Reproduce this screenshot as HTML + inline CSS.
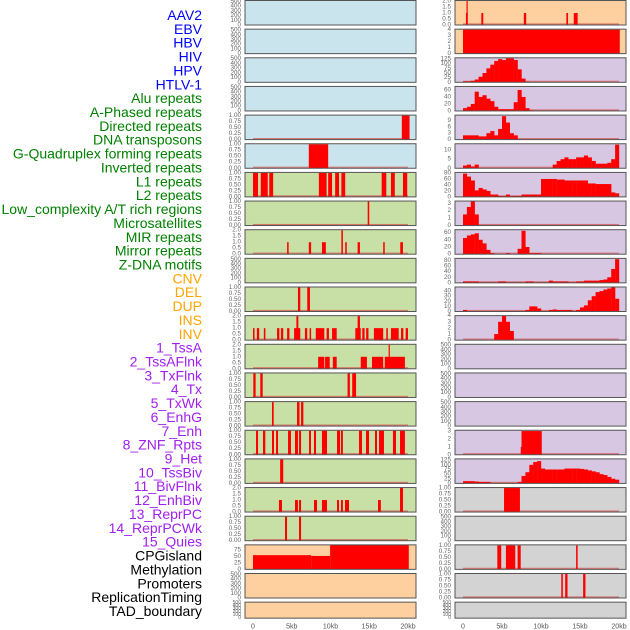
<!DOCTYPE html>
<html><head><meta charset="utf-8">
<style>
html,body{margin:0;padding:0;background:#fff;}
svg{display:block;}
text{font-family:"Liberation Sans",sans-serif;}
</style></head>
<body>
<svg id="chart" width="630" height="630" viewBox="0 0 630 630"></svg>
<script>
// ===== Data =====
const trackLabels = ["AAV2","EBV","HBV","HIV","HPV","HTLV-1","Alu repeats","A-Phased repeats","Directed repeats","DNA transposons","G-Quadruplex forming repeats","Inverted repeats","L1 repeats","L2 repeats","Low_complexity A/T rich regions","Microsatellites","MIR repeats","Mirror repeats","Z-DNA motifs","CNV","DEL","DUP","INS","INV","1_TssA","2_TssAFlnk","3_TxFlnk","4_Tx","5_TxWk","6_EnhG","7_Enh","8_ZNF_Rpts","9_Het","10_TssBiv","11_BivFlnk","12_EnhBiv","13_ReprPC","14_ReprPCWk","15_Quies","CPGisland","Methylation","Promoters","ReplicationTiming","TAD_boundary"];
const labelGroups = [6,13,5,15,5];
const xTickValues = [0,5,10,15,20];
const xTickLabels = ["0","5kb","10kb","15kb","20kb"];

// bar tracks: [startKb, endKb, value]
const L4_bars = [[19.2,20.2,1]];
const L5_bars = [[7.2,9.7,1]];
const L6_bars = [[0,0.65,1],[1.0,1.9,1],[2.1,2.6,1],[8.5,9.5,1],[9.7,10.2,1],[10.6,11.1,1],[11.4,11.9,1],[16.6,17.2,1],[17.8,18.3,1],[19.35,19.9,1]];
const L7_bars = [[14.8,15.0,1]];
const L8_bars = [[4.4,4.6,1],[7.2,7.5,1],[8.9,9.4,1],[11.4,11.6,2],[11.9,12.1,1],[13.5,13.8,1],[16.8,17.0,1],[19.0,19.35,1]];
const L10_bars = [[5.8,6.1,1],[7.0,7.35,1]];
const L11_bars = [[0,0.2,1],[0.5,0.8,1],[1.4,1.6,1],[3.1,3.4,1],[3.6,3.9,1],[4.4,4.7,1],[5.3,6.1,1],[5.6,5.85,2],[6.7,7.0,1],[7.3,7.5,1],[8.1,9.2,1],[9.5,9.8,1],[10.2,10.8,1],[13.2,13.9,1],[13.5,13.8,2],[14.1,14.4,1],[14.6,14.9,1],[15.6,16.8,1],[17.2,17.4,1],[17.8,18.8,1],[19.1,19.4,1],[19.7,20.0,1]];
const L12_bars = [[8.4,9.2,1],[9.3,9.9,1],[10.3,10.8,1],[13.9,14.7,1],[15.35,16.8,1],[17.0,19.6,1],[17.5,17.6,2]];
const L13_bars = [[0.04,0.34,1],[0.94,1.25,1],[12.2,12.5,1],[12.8,13.3,1]];
const L14_bars = [[2.45,2.67,1],[5.68,6.0,1],[6.2,6.5,1]];
const L15_bars = [[0.39,0.65,1],[1.29,1.59,1],[2.45,2.71,1],[2.97,3.23,1],[4.52,4.9,1],[5.42,5.8,1],[5.94,6.2,1],[7.23,7.48,1],[7.87,8.13,1],[8.9,9.55,1],[10.84,11.23,1],[11.35,11.6,1],[13.68,14.06,1],[14.58,14.97,1],[15.74,16.0,1],[16.26,16.9,1],[18.06,18.45,1],[18.97,19.6,1]];
const L16_bars = [[3.5,3.9,1]];
const L17_bars = [[3.35,3.74,1],[5.42,5.8,1],[5.94,6.2,1],[7.87,8.26,1],[8.9,9.55,1],[10.84,11.1,1],[11.35,11.6,1],[11.87,12.39,1],[16.13,16.5,1],[18.97,19.35,2]];
const L18_bars = [[4.13,4.39,1],[5.94,6.2,1]];
const L19_bars = [[0,7.5,55],[7.5,9.95,52],[9.95,20.1,95]];
const R0_bars = [[0.38,0.6,1],[0.45,0.55,2],[2.35,2.6,1],[7.8,8.1,1],[13.25,13.46,1],[14.2,14.7,1]];
const R1_bars = [[0,20.1,4]];
const R15_bars = [[7.4,7.5,1],[7.5,10.1,3]];
const R17_bars = [[5.26,7.3,1]];
const R19_bars = [[4.4,4.9,1],[5.5,6.7,1],[7.0,7.4,1],[14.5,14.7,1]];
const R20_bars = [[12.6,12.8,1],[13.1,13.4,1],[15.4,15.7,1]];

// histogram tracks: values in 0.5kb bins starting at 0kb
const R2_bins = [5,5,8,15,30,50,75,95,115,125,120,130,130,120,70,20,3];
const R3_bins = [8,12,20,55,40,45,35,28,12,5,5,5,5,25,60,40,8,2];
const R4_bins = [2,2,2,2,1.5,1.5,3,4,2,5,11,8,3,2];
const R5_bins = [1.5,2,1,2,0,0,0,0,0,0,0,0,0,0,0,0,0,0,0,0,0,0,0,2,4,5,6,5,5,6,6,7,6,4,2.5,2.5,2.5,3,5,13];
const R6_bins = [78,68,55,22,30,25,20,8,8,3,3,8,3,3,3,8,8,8,8,8,60,60,60,60,58,58,55,55,55,55,55,55,45,45,43,43,43,43,15,12];
const R7_bins = [1.5,2.5,3.3,1.5];
const R8_bins = [45,52,55,58,40,30,12,3,0,0,0,3,0,0,15,65,20,3,3,3];
const R9_bins = [5,5,5,5,2,2,2,2,2,5,5,2,2,2,2,2,5,5,2,2,2,2,8,5,5,5,5,2,2,5,5,8,8,8,8,10,12,20,50,85];
const R10_bins = [3,0,0,0,0,0,0,0,0,0,0,0,0,0,0,0,3,10,10,6,0,0,3,4,3,3,3,3,0,3,8,12,22,30,38,40,43,45,47,25];
const R11_bins = [0,0,0,0,0,0,0,0,1,3,4,3,1.5];
const R16_bins = [12,12,12,10,8,8,8,2,0,0,0,0,0,0,8,40,60,100,115,120,80,75,75,75,75,75,80,80,80,80,78,75,70,65,60,50,45,35,25,20];

// y-axis settings: [ymax, tick values]
const ticksEmpty = [0,100,200,300,400,500];
const ticksUnit = [0,0.25,0.5,0.75,1.0];
const ticksTwo = [0,0.5,1.0,1.5,2.0];

// ===== Panels =====
const BG = {blue:"#c9e4ec",green:"#c8e0a5",orange:"#fed09f",purple:"#d7c7e3",gray:"#d3d3d3"};
const leftPanels = [
 {bg:"blue",ymax:520,ticks:ticksEmpty},
 {bg:"blue",ymax:520,ticks:ticksEmpty},
 {bg:"blue",ymax:520,ticks:ticksEmpty},
 {bg:"blue",ymax:520,ticks:ticksEmpty},
 {bg:"blue",ymax:1.02,ticks:ticksUnit,bars:L4_bars,fmt:2},
 {bg:"blue",ymax:1.02,ticks:ticksUnit,bars:L5_bars,fmt:2},
 {bg:"green",ymax:1.02,ticks:ticksUnit,bars:L6_bars,fmt:2},
 {bg:"green",ymax:1.02,ticks:ticksUnit,bars:L7_bars,fmt:2},
 {bg:"green",ymax:2.04,ticks:ticksTwo,bars:L8_bars,fmt:1},
 {bg:"green",ymax:520,ticks:ticksEmpty},
 {bg:"green",ymax:1.02,ticks:ticksUnit,bars:L10_bars,fmt:2},
 {bg:"green",ymax:2.04,ticks:ticksTwo,bars:L11_bars,fmt:1},
 {bg:"green",ymax:2.04,ticks:ticksTwo,bars:L12_bars,fmt:1},
 {bg:"green",ymax:1.02,ticks:ticksUnit,bars:L13_bars,fmt:2},
 {bg:"green",ymax:1.02,ticks:ticksUnit,bars:L14_bars,fmt:2},
 {bg:"green",ymax:1.02,ticks:ticksUnit,bars:L15_bars,fmt:2},
 {bg:"green",ymax:1.02,ticks:ticksUnit,bars:L16_bars,fmt:2},
 {bg:"green",ymax:2.04,ticks:ticksTwo,bars:L17_bars,fmt:1},
 {bg:"green",ymax:1.02,ticks:ticksUnit,bars:L18_bars,fmt:2},
 {bg:"orange",ymax:95,ticks:[0,25,50,75],bars:L19_bars,fmt:0},
 {bg:"orange",ymax:520,ticks:ticksEmpty},
 {bg:"orange",ymax:520,ticks:ticksEmpty}
];
const rightPanels = [
 {bg:"orange",ymax:2.04,ticks:ticksTwo,bars:R0_bars,fmt:1},
 {bg:"orange",ymax:4.08,ticks:[0,1,2,3,4],bars:R1_bars,fmt:0,noBase:true},
 {bg:"purple",ymax:132,ticks:[0,25,50,75,100,125],bins:R2_bins,fmt:0},
 {bg:"purple",ymax:70,ticks:[0,20,40,60],bins:R3_bins,fmt:0},
 {bg:"purple",ymax:11.5,ticks:[0,3,6,9],bins:R4_bins,fmt:0},
 {bg:"purple",ymax:13.5,ticks:[0,5,10],bins:R5_bins,fmt:0},
 {bg:"purple",ymax:82,ticks:[0,20,40,60,80],bins:R6_bins,fmt:0},
 {bg:"purple",ymax:3.3,ticks:[0,1,2,3],bins:R7_bins,fmt:0},
 {bg:"purple",ymax:68,ticks:[0,20,40,60],bins:R8_bins,fmt:0},
 {bg:"purple",ymax:88,ticks:[0,20,40,60,80],bins:R9_bins,fmt:0},
 {bg:"purple",ymax:48,ticks:[0,10,20,30,40],bins:R10_bins,fmt:0},
 {bg:"purple",ymax:4,ticks:[0,1,2,3,4],bins:R11_bins,fmt:0},
 {bg:"purple",ymax:520,ticks:ticksEmpty},
 {bg:"purple",ymax:520,ticks:ticksEmpty},
 {bg:"purple",ymax:520,ticks:ticksEmpty},
 {bg:"purple",ymax:3.1,ticks:[0,1,2,3],bars:R15_bars,fmt:0},
 {bg:"purple",ymax:132,ticks:[0,25,50,75,100,125],bins:R16_bins,fmt:0},
 {bg:"gray",ymax:1.02,ticks:ticksUnit,bars:R17_bars,fmt:2},
 {bg:"gray",ymax:520,ticks:ticksEmpty},
 {bg:"gray",ymax:1.02,ticks:ticksUnit,bars:R19_bars,fmt:2},
 {bg:"gray",ymax:1.02,ticks:ticksUnit,bars:R20_bars,fmt:2},
 {bg:"gray",ymax:520,ticks:ticksEmpty}
];

// ===== Drawing =====
const NS = "http://www.w3.org/2000/svg";
const svg = document.getElementById("chart");
function mk(tag, attrs, parent){
  const e = document.createElementNS(NS, tag);
  for (const k in attrs) e.setAttribute(k, attrs[k]);
  (parent||svg).appendChild(e);
  return e;
}
const ROW_STEP = 28.65, ROW_H = 24.5, LAST_H = 16;
const COLS = [
  {x0:245, x1:416, dataX0:253, pxPerKb:7.75, tickRight:241, panels:leftPanels, name:"left"},
  {x0:455, x1:626, dataX0:463, pxPerKb:7.8, tickRight:451, panels:rightPanels, name:"right"}
];
const groupColors = ["#0000ff","#008000","#ffa500","#a020f0","#000000"];

// labels
(function(){
  let idx = 0;
  labelGroups.forEach((n,g)=>{
    for (let j=0;j<n;j++){
      const t = mk("text",{x:202,y:15+idx*13.86,"text-anchor":"end","dominant-baseline":"central","font-size":"14",fill:groupColors[g]});
      t.textContent = trackLabels[idx];
      
      
      idx++;
    }
  });
})();

COLS.forEach(col=>{
  const xs = kb => col.dataX0 + kb*col.pxPerKb;
  col.panels.forEach((p,i)=>{
    const top = i*ROW_STEP + 0.5;
    const h = (i===col.panels.length-1) ? LAST_H : ROW_H;
    const bottom = top + h;
    const ys = v => bottom - (v/p.ymax)*h;
    const g = mk("g",{});
    
    
    const bg = mk("rect",{x:col.x0,y:top,width:col.x1-col.x0,height:h,fill:BG[p.bg],stroke:"none"},g);
    
    
    const hasData = p.bars || p.bins;
    if (hasData && !p.noBase){
      const base = mk("rect",{x:xs(0),y:bottom-1.6,width:xs(20)-xs(0),height:1.2,fill:"#d9534f","fill-opacity":"0.75"},g);
      
      
    }
    if (p.bars){
      p.bars.forEach(b=>{
        const y = Math.max(top, ys(b[2]));
        const r = mk("rect",{x:xs(b[0]),y:y,width:Math.max(1.2,xs(b[1])-xs(b[0])),height:bottom-y,fill:"#ff0000"},g);
        
        
      });
    }
    if (p.bins){
      p.bins.forEach((v,k)=>{
        if (v<=0) return;
        const y = Math.max(top, ys(v));
        const r = mk("rect",{x:xs(k*0.5),y:y,width:xs((k+1)*0.5)-xs(k*0.5)+0.2,height:bottom-y,fill:"#ff0000"},g);
        
        
      });
    }
    const border = mk("rect",{x:col.x0,y:top,width:col.x1-col.x0,height:h,fill:"none",stroke:"#555",  "stroke-width":"1"},g);
    
    
    const fs = h < 20 ? 5 : 6.3;
    p.ticks.forEach(tv=>{
      const t = mk("text",{x:col.tickRight,y:ys(tv),"text-anchor":"end","dominant-baseline":"central","font-size":fs,fill:"#666"},g);
      t.textContent = p.fmt ? tv.toFixed(p.fmt) : String(tv);
      
      
    });
  });
  xTickValues.forEach((v,k)=>{
    const t = mk("text",{x:xs(v),y:627,"text-anchor":"middle","dominant-baseline":"central","font-size":"7",fill:"#555"});
    t.textContent = xTickLabels[k];
    
    
  });
});
</script>
</body></html>
